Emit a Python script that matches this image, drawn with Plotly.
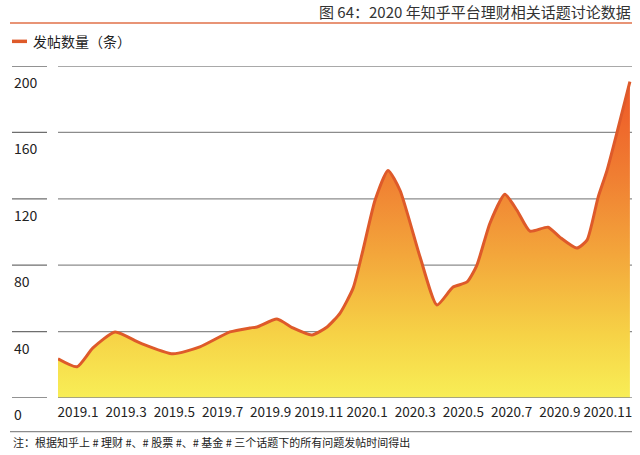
import plotly.graph_objects as go

# ---- data (x = months since 2019.1, y = number of posts) ----
month_pos = [-0.83, -0.04, 0.62, 1.54, 2.57, 3.94, 5.06, 6.31, 7.14, 7.43, 8.26, 8.92,
             9.71, 10.34, 10.88, 11.42, 11.83, 12.33, 12.87, 13.37, 14.2, 14.9, 15.57,
             16.15, 16.56, 17.1, 17.72, 18.22, 18.76, 19.51, 20.0, 20.71, 21.13, 21.59,
             21.96, 22.91]
posts = [23.6, 18.8, 30.2, 39.8, 33.2, 26.6, 30.8, 39.8, 42.2, 42.8, 47.6, 42.2,
         38.0, 42.8, 51.2, 66.2, 89.1, 119.1, 137.1, 125.0, 84.9, 56.0, 66.8,
         69.9, 80.1, 105.3, 122.7, 113.1, 100.5, 102.9, 96.9, 90.3, 95.1, 120.9,
         137.1, 190.6]

x_tickvals = [0, 2, 4, 6, 8, 10, 12, 14, 16, 18, 20, 22]
x_ticktext = ["2019.1", "2019.3", "2019.5", "2019.7", "2019.9", "2019.11",
              "2020.1", "2020.3", "2020.5", "2020.7", "2020.9", "2020.11"]
y_ticks = [0, 40, 80, 120, 160, 200]

title_text = "图 64：2020 年知乎平台理财相关话题讨论数据"
legend_text = "发帖数量（条）"
note_text = "注：根据知乎上 # 理财 #、# 股票 #、# 基金 # 三个话题下的所有问题发帖时间得出"

FONT = "Noto Sans CJK SC, Noto Sans, sans-serif"
W, H = 640, 455
L, R, T, B = 58, 632, 65.7, 398.3


def px(x):
    return (x - L) / (R - L)


def py(y):
    return (B - y) / (B - T)


fig = go.Figure()
fig.add_trace(go.Scatter(
    x=month_pos, y=posts, mode="lines",
    line=dict(color="#DE5A2A", width=3, shape="spline", smoothing=0.55),
    fill="tozeroy",
    fillgradient=dict(type="vertical", start=0, stop=192,
                      colorscale=[[0, "#F8EE56"], [0.2, "#F6D246"], [0.45, "#F3A63B"],
                                  [0.7, "#F07E32"], [1, "#EE5526"]]),
    hoverinfo="skip", showlegend=False,
))

shapes = []
annotations = []
for v in y_ticks:
    # main gridline
    shapes.append(dict(type="line", xref="paper", yref="y", x0=0, x1=1, y0=v, y1=v,
                       line=dict(color="#8C8C8C", width=1.3),
                       layer="above" if v == 0 else "below"))
    # short left segment
    shapes.append(dict(type="line", xref="paper", yref="y", x0=px(12), x1=px(47), y0=v, y1=v,
                       line=dict(color="#6E6E6E", width=1.3)))
    annotations.append(dict(xref="paper", yref="y", x=px(12), y=v, yshift=-16,
                            text=str(v), showarrow=False, xanchor="left", yanchor="middle",
                            font=dict(family=FONT, size=14, color="#222222")))

# header rule
shapes.append(dict(type="line", xref="paper", yref="paper", x0=px(10), x1=px(632),
                   y0=py(22.6), y1=py(22.6), line=dict(color="#E07048", width=1.5)))
# legend sample line
shapes.append(dict(type="line", xref="paper", yref="paper", x0=px(12), x1=px(27),
                   y0=py(41), y1=py(41), line=dict(color="#DE5A2A", width=3.5)))
# footer rule
shapes.append(dict(type="line", xref="paper", yref="paper", x0=px(10), x1=px(632),
                   y0=py(432), y1=py(432), line=dict(color="#8C8C8C", width=1.3)))

annotations.append(dict(xref="paper", yref="paper", x=px(633), y=py(11), text=title_text,
                        showarrow=False, xanchor="right", yanchor="middle",
                        font=dict(family=FONT, size=15, color="#333333")))
annotations.append(dict(xref="paper", yref="paper", x=px(31), y=py(41), text=legend_text,
                        showarrow=False, xanchor="left", yanchor="middle",
                        font=dict(family=FONT, size=14, color="#222222")))
annotations.append(dict(xref="paper", yref="paper", x=px(11), y=py(442), text=note_text,
                        showarrow=False, xanchor="left", yanchor="middle",
                        font=dict(family=FONT, size=11, color="#222222")))

fig.update_layout(
    width=W, height=H,
    margin=dict(l=L, r=W - R, t=T, b=H - B, pad=0),
    paper_bgcolor="white", plot_bgcolor="white",
    shapes=shapes, annotations=annotations,
    showlegend=False,
    xaxis=dict(range=[(L - 78) / 24.09, (R - 78) / 24.09], tickvals=x_tickvals,
               ticktext=x_ticktext, showgrid=False, zeroline=False, showline=False,
               ticks="", tickangle=0, ticklabelstandoff=4,
               tickfont=dict(family=FONT, size=13.5, color="#222222")),
    yaxis=dict(range=[0, 200], showgrid=False, zeroline=False, showline=False,
               showticklabels=False, ticks=""),
)

fig.write_html("out.html", config={"displayModeBar": False},
               post_script="document.body.style.margin='0';document.body.style.overflow='hidden';")
